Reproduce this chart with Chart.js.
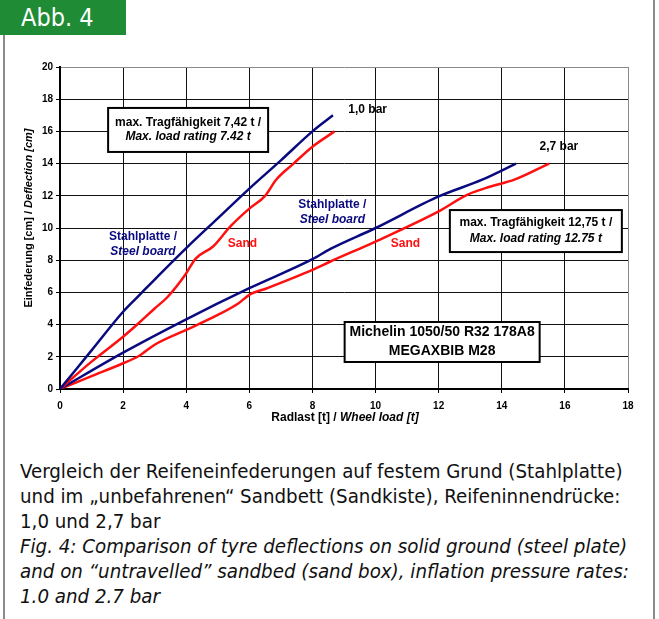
<!DOCTYPE html>
<html>
<head>
<meta charset="utf-8">
<script src="https://cdn.jsdelivr.net/npm/chart.js@4.4.1/dist/chart.umd.min.js"></script>
<style>
    body { margin: 0; background: #fff; }
    #page { position: relative; width: 659px; height: 619px; overflow: hidden; background: #fff; }
    #abb { position: absolute; left: 0; top: 0; width: 126px; height: 35px; background: #1f8c35; color: #fff;
        font: 25px "Liberation Sans Narrow", "DejaVu Sans Condensed", Roboto, sans-serif; line-height: 35px; padding-left: 21px; box-sizing: border-box; }
    #lineLeft { position: absolute; left: 3px; top: 35px; width: 2px; height: 584px; background: #8a8a8a; }
    #lineRight { position: absolute; left: 653px; top: 0; width: 2px; height: 619px; background: #8a8a8a; }
    #chartBox { position: absolute; left: 0; top: 0; width: 659px; height: 440px; }
    #caption { position: absolute; left: 20px; top: 459px; width: 635px; color: #111;
        font: 20.3px "Liberation Sans Narrow", "DejaVu Sans Condensed", Roboto, sans-serif; line-height: 25px; white-space: nowrap; }
</style>
</head>
<body>
<div id="page">
    <div id="abb">Abb. 4</div>
    <div id="lineLeft"></div>
    <div id="lineRight"></div>
    <div id="chartBox"><canvas id="deflectionChart" width="659" height="440"></canvas></div>
    <div id="caption">Vergleich der Reifeneinfederungen auf festem Grund (Stahlplatte)<br>und im „unbefahrenen“ Sandbett (Sandkiste), Reifeninnendrücke:<br>1,0 und 2,7 bar<br><i>Fig. 4: Comparison of tyre deflections on solid ground (steel plate)<br>and on “untravelled” sandbed (sand box), inflation pressure rates:<br>1.0 and 2.7 bar</i></div>
</div>
<script>
// Radlast [t] -> Einfederung [cm]
const steel10X = [0, 1, 2, 2.5, 3, 4, 5, 6, 7, 8, 8.65];
const steel10Y = [0, 2.4, 4.8, 5.8, 6.8, 8.75, 10.6, 12.45, 14.2, 16.0, 17.0];
const sand10X = [0, 1, 2, 2.5, 3, 3.4, 3.97, 4.3, 4.85, 5.4, 6, 6.5, 6.85, 7.4, 8, 8.7];
const sand10Y = [0, 1.7, 3.25, 4.1, 5.0, 5.7, 7.1, 8.1, 8.85, 10.1, 11.2, 12.0, 13.0, 14.0, 15.05, 16.0];
const steel27X = [0, 2, 4, 6, 8, 8.57, 10, 12, 13.38, 14.45];
const steel27Y = [0, 2.26, 4.33, 6.26, 8.06, 8.7, 10.0, 11.96, 13.0, 14.0];
const sand27X = [0, 1, 2, 2.5, 3, 4, 5, 5.66, 6, 6.56, 8, 8.57, 10, 12, 12.9, 13.65, 14.4, 15.5];
const sand27Y = [0, 0.8, 1.6, 2.05, 2.75, 3.67, 4.6, 5.33, 5.85, 6.26, 7.4, 7.92, 9.16, 11.03, 12.06, 12.58, 13.0, 14.0];

const xMax = 18, xStep = 2;
const yMax = 20, yStep = 2;

const NAVY = '#0a0a80';
const RED = '#ff1010';
const FONT = '"Liberation Sans", Arial, sans-serif';

// Beschriftungen im Diagramm (Ankerpunkt in Achsenwerten)
const notes = [
    { x: 4.06, y: 16.09, box: [160, 44], lines: [['max. Tragfähigkeit 7,42 t /', ''], ['Max. load rating 7.42 t', 'italic ']], gap: 14, size: 12, color: '#000' },
    { x: 15.08, y: 9.81, box: [172, 42], lines: [['max. Tragfähigkeit 12,75 t /', ''], ['Max. load rating 12.75 t', 'italic ']], gap: 16, size: 12, color: '#000' },
    { x: 12.11, y: 2.92, box: [195, 40], lines: [['Michelin 1050/50 R32 178A8', ''], ['MEGAXBIB M28', '']], gap: 19, size: 14, color: '#000' },
    { x: 9.75, y: 17.33, lines: [['1,0 bar', '']], gap: 0, size: 12, color: '#000' },
    { x: 15.81, y: 15.03, lines: [['2,7 bar', '']], gap: 0, size: 12, color: '#000' },
    { x: 2.63, y: 8.97, lines: [['Stahlplatte /', ''], ['Steel board', 'italic ']], gap: 15, size: 12, color: NAVY },
    { x: 8.63, y: 10.96, lines: [['Stahlplatte /', ''], ['Steel board', 'italic ']], gap: 15, size: 12, color: NAVY },
    { x: 5.78, y: 9.0, lines: [['Sand', '']], gap: 0, size: 12, color: RED },
    { x: 10.95, y: 9.0, lines: [['Sand', '']], gap: 0, size: 12, color: RED }
];

function toPoints(xs, ys) {
    return xs.map((x, i) => ({ x: x, y: ys[i] }));
}

// Achsentitel mit gemischtem Schriftschnitt + Textkästen
const notesPlugin = {
    id: 'notes',
    afterDraw(chart) {
        const ctx = chart.ctx;
        const sx = chart.scales.x, sy = chart.scales.y;
        ctx.save();
        ctx.textBaseline = 'middle';

        notes.forEach(n => {
            const cx = sx.getPixelForValue(n.x);
            const cy = sy.getPixelForValue(n.y);
            if (n.box) {
                const w = n.box[0], h = n.box[1];
                ctx.fillStyle = '#fff';
                ctx.fillRect(cx - w / 2, cy - h / 2, w, h);
                ctx.strokeStyle = '#000';
                ctx.lineWidth = 2;
                ctx.strokeRect(cx - w / 2, cy - h / 2, w, h);
            }
            ctx.fillStyle = n.color;
            ctx.textAlign = 'center';
            const top = cy - (n.lines.length - 1) * n.gap / 2;
            n.lines.forEach((l, i) => {
                ctx.font = l[1] + 'bold ' + n.size + 'px ' + FONT;
                ctx.fillText(l[0], cx, top + i * n.gap);
            });
        });

        // x-Achsentitel
        ctx.fillStyle = '#000';
        ctx.textAlign = 'left';
        const a1 = 'Radlast [t] / ', a2 = 'Wheel load [t]';
        ctx.font = 'bold 12px ' + FONT;
        const w1 = ctx.measureText(a1).width;
        ctx.font = 'italic bold 12px ' + FONT;
        const w2 = ctx.measureText(a2).width;
        const xc = (chart.chartArea.left + chart.chartArea.right) / 2 + 1;
        let x0 = xc - (w1 + w2) / 2;
        ctx.font = 'bold 12px ' + FONT;
        ctx.fillText(a1, x0, 418);
        ctx.font = 'italic bold 12px ' + FONT;
        ctx.fillText(a2, x0 + w1, 418);

        // y-Achsentitel
        const b1 = 'Einfederung [cm] / ', b2 = 'Deflection [cm]';
        ctx.font = 'bold 11px ' + FONT;
        const v1 = ctx.measureText(b1).width;
        ctx.font = 'italic bold 11px ' + FONT;
        const v2 = ctx.measureText(b2).width;
        ctx.translate(29, 218);
        ctx.rotate(-Math.PI / 2);
        const y0 = -(v1 + v2) / 2;
        ctx.font = 'bold 11px ' + FONT;
        ctx.fillText(b1, y0, 0);
        ctx.font = 'italic bold 11px ' + FONT;
        ctx.fillText(b2, y0 + v1, 0);
        ctx.restore();
    }
};

function lineSet(label, xs, ys, color) {
    return {
        label: label,
        data: toPoints(xs, ys),
        borderColor: color,
        backgroundColor: color,
        borderWidth: 2.5,
        pointRadius: 0,
        cubicInterpolationMode: 'monotone',
        fill: false
    };
}

function gridColor(max) {
    return c => (c.tick && c.tick.value === max) ? '#8a8a8a' : '#111';
}

new Chart(document.getElementById('deflectionChart'), {
    type: 'line',
    data: {
        datasets: [
            lineSet('1,0 bar Stahlplatte', steel10X, steel10Y, NAVY),
            lineSet('1,0 bar Sand', sand10X, sand10Y, RED),
            lineSet('2,7 bar Stahlplatte', steel27X, steel27Y, NAVY),
            lineSet('2,7 bar Sand', sand27X, sand27Y, RED)
        ]
    },
    options: {
        responsive: false,
        animation: false,
        layout: { padding: { left: 0, right: 31, top: 67, bottom: 21 } },
        plugins: { legend: { display: false }, tooltip: { enabled: false } },
        scales: {
            x: {
                type: 'linear', min: 0, max: xMax,
                ticks: { stepSize: xStep, color: '#000', font: { family: FONT, size: 10, weight: 'bold' }, padding: 7, maxRotation: 0 },
                grid: { color: gridColor(xMax), lineWidth: 1, tickLength: 4, tickColor: '#000' },
                border: { color: '#000', width: 2 },
                afterFit: s => { s.height = 30; }
            },
            y: {
                type: 'linear', min: 0, max: yMax,
                ticks: { stepSize: yStep, color: '#000', font: { family: FONT, size: 10, weight: 'bold' }, padding: 3 },
                grid: { color: gridColor(yMax), lineWidth: 1, tickLength: 4, tickColor: '#000' },
                border: { color: '#000', width: 2 },
                afterFit: s => { s.width = 60; }
            }
        }
    },
    plugins: [notesPlugin]
});
</script>
</body>
</html>
